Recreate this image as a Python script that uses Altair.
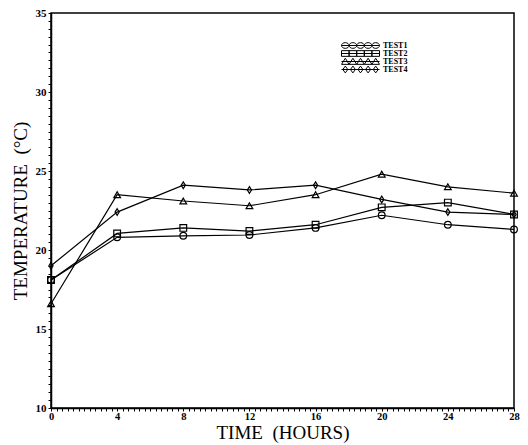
import altair as alt
import pandas as pd

HOURS = [0, 4, 8, 12, 16, 20, 24, 28]
SERIES = ["TEST1", "TEST2", "TEST3", "TEST4"]
TEST1 = [18.1, 20.8, 20.9, 20.95, 21.4, 22.2, 21.6, 21.3]
TEST2 = [18.1, 21.05, 21.4, 21.2, 21.6, 22.7, 23.0, 22.25]
TEST3 = [16.6, 23.5, 23.1, 22.8, 23.5, 24.8, 24.0, 23.6]
TEST4 = [19.0, 22.4, 24.1, 23.8, 24.1, 23.2, 22.4, 22.25]

rows = []
for name, vals in zip(SERIES, [TEST1, TEST2, TEST3, TEST4]):
    for h, v in zip(HOURS, vals):
        rows.append({"hour": h, "temp": v, "series": name})
df = pd.DataFrame(rows)

# marker shapes (style)
DIAMOND = "M0,-1L0.62,0L0,1L-0.62,0Z"
PLOT_SHAPES = ["circle", "square", "triangle-up", DIAMOND]


def legend_path(kind):
    centers = [-0.8, -0.4, 0.0, 0.4, 0.8]
    p = "M-1,0L1,0"
    for c in centers:
        if kind == "circle":
            p += f"M{c-0.2:.3f},0A0.2,0.15,0,1,0,{c+0.2:.3f},0A0.2,0.15,0,1,0,{c-0.2:.3f},0"
        elif kind == "square":
            p += f"M{c-0.2:.3f},-0.15L{c+0.2:.3f},-0.15L{c+0.2:.3f},0.15L{c-0.2:.3f},0.15Z"
        elif kind == "triangle":
            p += f"M{c-0.2:.3f},0.15L{c:.3f},-0.17L{c+0.2:.3f},0.15Z"
        else:
            p += f"M{c:.3f},-0.18L{c+0.13:.3f},0L{c:.3f},0.18L{c-0.13:.3f},0Z"
    return p


LEGEND_SHAPES = [legend_path(k) for k in ["circle", "square", "triangle", "diamond"]]

SERIF = "Liberation Serif"

y_ticks = [10 + 0.5 * k for k in range(51)]
x_ticks = [k / 3 for k in range(85)]

x_enc = alt.X(
    "hour:Q",
    scale=alt.Scale(domain=[0, 28], nice=False, zero=False),
    axis=alt.Axis(
        values=x_ticks,
        labelExpr="abs(datum.value - round(datum.value/4)*4) < 0.01 ? format(round(datum.value), 'd') : ''",
        title="TIME \u00a0(HOURS)",
        grid=False,
        tickSize=3,
        labelFlush=False,
        labelOverlap=False,
        labelPadding=0,
        titlePadding=2,
        labelFontSize=10.5,
    ),
)
y_enc = alt.Y(
    "temp:Q",
    scale=alt.Scale(domain=[10, 35], nice=False, zero=False),
    axis=alt.Axis(
        values=y_ticks,
        labelExpr="datum.value % 5 == 0 ? format(datum.value, 'd') : ''",
        title="TEMPERATURE \u00a0(°C)",
        grid=False,
        tickSize=3,
        labelFlush=False,
        labelOverlap=False,
        labelPadding=2,
        titlePadding=5,
    ),
)

base = alt.Chart(df)

lines = base.mark_line(color="black", strokeWidth=1.2).encode(
    x=x_enc, y=y_enc, detail="series:N"
)

points = base.mark_point(
    filled=False, color="black", size=45, strokeWidth=1.2, opacity=1
).encode(
    x=x_enc,
    y=y_enc,
    shape=alt.Shape(
        "series:N",
        scale=alt.Scale(domain=SERIES, range=PLOT_SHAPES),
        legend=None,
    ),
)

legend_layer = base.mark_point(filled=False, color="black", opacity=0).encode(
    x=x_enc,
    y=y_enc,
    shape=alt.Shape(
        "series:N",
        scale=alt.Scale(domain=SERIES, range=LEGEND_SHAPES),
        legend=alt.Legend(
            title=None,
            orient="none",
            legendX=290,
            legendY=29,
            symbolSize=1444,
            symbolOpacity=1,
            symbolStrokeColor="black",
            symbolFillColor="transparent",
            symbolStrokeWidth=1,
            symbolOffset=0,
            clipHeight=7,
            rowPadding=-1,
            labelOffset=3,
            labelFont=SERIF,
            labelFontSize=8,
            labelFontWeight="bold",
            labelColor="black",
            padding=0,
        ),
    ),
)

chart = (
    alt.layer(lines, points, legend_layer)
    .resolve_scale(shape="independent")
    .properties(
        width=463,
        height=395,
        autosize=alt.AutoSizeParams(type="none"),
        padding={"left": 43, "top": 5, "right": 6, "bottom": 35},
    )
    .configure_view(stroke="black", strokeWidth=1.5)
    .configure_axis(
        domainColor="black",
        domainWidth=1.5,
        tickColor="black",
        tickWidth=1,
        labelFont=SERIF,
        labelFontSize=11,
        labelFontWeight="bold",
        labelColor="black",
        titleFont=SERIF,
        titleFontSize=19,
        titleFontWeight="normal",
        titleColor="black",
    )
)

chart.save("out.html", embed_options={"renderer": "svg", "actions": False})
